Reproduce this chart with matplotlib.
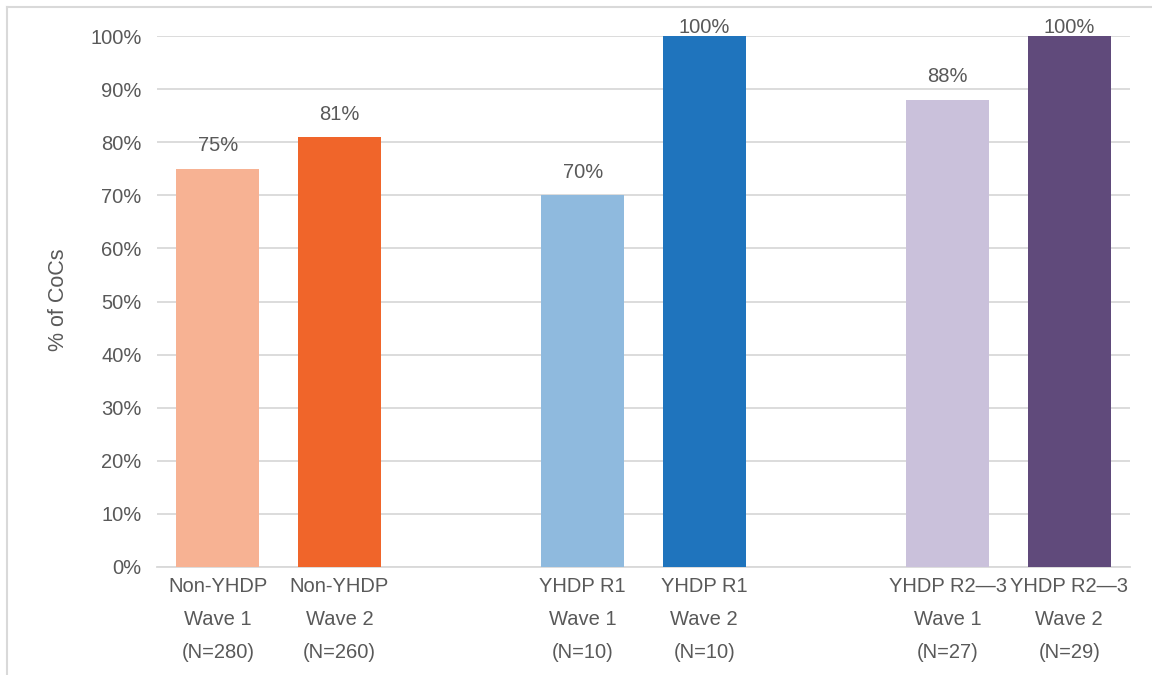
import matplotlib
matplotlib.use('Agg')

import matplotlib.pyplot as plt
from matplotlib.lines import Line2D

# data
categories = ['Non-YHDP\nWave 1\n(N=280)', 'Non-YHDP\nWave 2\n(N=260)',
              'YHDP R1\nWave 1\n(N=10)', 'YHDP R1\nWave 2\n(N=10)',
              'YHDP R2\u20143\nWave 1\n(N=27)', 'YHDP R2\u20143\nWave 2\n(N=29)']
values = [75, 81, 70, 100, 88, 100]
slots = [0, 1, 3, 4, 6, 7]   # empty slots 2 and 5 separate the groups
colors = ['#F7B293', '#F0652A', '#8FBADE', '#1F74BD', '#CAC1DB', '#604A7B']
yticks = list(range(0, 101, 10))

txt_color = '#595959'
plt.rcParams['font.family'] = ['Liberation Sans', 'DejaVu Sans']

fig = plt.figure(figsize=(11.52, 6.75), dpi=100)
ax = fig.add_axes([157/1152, 1 - 567/675, (1130-157)/1152, (567-36)/675])

ax.bar(slots, values, width=0.68, color=colors, zorder=3)

for x, v in zip(slots, values):
    ax.text(x, min(v + 4.3, 101.6), f'{v}%', ha='center', va='center',
            fontsize=14.5, color=txt_color, clip_on=False, zorder=4)

ax.set_xlim(-0.5, 7.5)
ax.set_ylim(0, 100)
ax.set_yticks(yticks)
ax.set_yticklabels([f'{t}%' for t in yticks])
ax.set_xticks(slots)
ax.set_xticklabels(categories, linespacing=1.95)
ax.tick_params(axis='both', length=0, labelsize=14.5, labelcolor=txt_color)
ax.tick_params(axis='y', pad=11)
ax.tick_params(axis='x', pad=7)

ax.grid(axis='y', color='#D9D9D9', linewidth=1.3, zorder=0)
for s in ['top', 'right', 'left']:
    ax.spines[s].set_visible(False)
ax.spines['bottom'].set_color('#D9D9D9')
ax.spines['bottom'].set_linewidth(1.3)

fig.text(58/1152, 1 - 300/675, '% of CoCs', rotation=90, ha='center', va='center',
         fontsize=15.5, color=txt_color)

# chart frame (only top and left edges visible in the crop)
fig.add_artist(Line2D([7/1152, 7/1152], [0, 1 - 7/675], color='#D9D9D9', linewidth=1.5))
fig.add_artist(Line2D([7/1152, 1], [1 - 7/675, 1 - 7/675], color='#D9D9D9', linewidth=1.5))

plt.savefig('out.png', dpi=100)
